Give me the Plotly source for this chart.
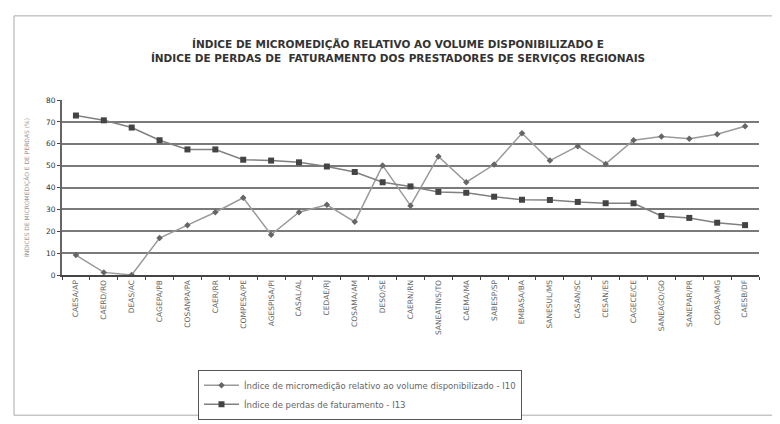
import plotly.graph_objects as go

categorias = ["CAESA/AP", "CAERD/RO", "DEAS/AC", "CAGEPA/PB", "COSANPA/PA", "CAER/RR",
              "COMPESA/PE", "AGESPISA/PI", "CASAL/AL", "CEDAE/RJ", "COSAMA/AM", "DESO/SE",
              "CAERN/RN", "SANEATINS/TO", "CAEMA/MA", "SABESP/SP", "EMBASA/BA", "SANESUL/MS",
              "CASAN/SC", "CESAN/ES", "CAGECE/CE", "SANEAGO/GO", "SANEPAR/PR", "COPASA/MG",
              "CAESB/DF"]

micromedicao = [9.1, 1.2, 0.0, 16.9, 22.8, 28.7, 35.3, 18.4, 28.7, 32.1, 24.3, 50.1,
                31.7, 54.2, 42.4, 50.5, 64.8, 52.3, 58.9, 50.8, 61.6, 63.3, 62.3, 64.3, 68.0]

perdas = [72.9, 70.7, 67.4, 61.6, 57.4, 57.4, 52.7, 52.3, 51.5, 49.6, 47.1, 42.4,
          40.5, 38.0, 37.6, 35.8, 34.4, 34.3, 33.4, 32.8, 32.8, 27.0, 26.1, 23.9, 22.8]

y_ticks = [0, 10, 20, 30, 40, 50, 60, 70, 80]

fig = go.Figure()
fig.add_trace(go.Scatter(
    x=categorias, y=micromedicao, mode="lines+markers",
    name="Índice de micromedição relativo ao volume disponibilizado - I10",
    line=dict(color="#9a9a9a", width=1.5),
    marker=dict(symbol="diamond", size=5, color="#666666"),
))
fig.add_trace(go.Scatter(
    x=categorias, y=perdas, mode="lines+markers",
    name="Índice de perdas de faturamento - I13",
    line=dict(color="#808080", width=1.5),
    marker=dict(symbol="square", size=6, color="#444444"),
))

W, H = 780, 424
L, R, T, B = 54, 29, 92, 151
pw, ph = W - L - R, H - T - B

def px_x(p):
    return (p - L) / pw

def px_y(p):
    return (H - B - p) / ph

fig.update_layout(
    width=W, height=H,
    margin=dict(l=L, r=R, t=T, b=B),
    paper_bgcolor="white", plot_bgcolor="white",
    font=dict(family="DejaVu Sans", color="#555555", size=7),
    title=dict(
        text="<b>ÍNDICE DE MICROMEDIÇÃO RELATIVO AO VOLUME DISPONIBILIZADO E<br>"
             "ÍNDICE DE PERDAS DE  FATURAMENTO DOS PRESTADORES DE SERVIÇOS REGIONAIS</b>",
        x=0.5, xref="container", xanchor="center",
        y=1 - 40 / H, yref="container", yanchor="middle",
        font=dict(family="DejaVu Sans", size=10.5, color="#333333"),
    ),
    showlegend=True,
    legend=dict(
        x=px_x(190), y=px_y(371), xanchor="left", yanchor="top",
        xref="paper", yref="paper",
        bordercolor="#555555", borderwidth=1, bgcolor="white",
        font=dict(size=8.5, color="#666666"),
        tracegroupgap=0, itemwidth=35,
    ),
    xaxis=dict(
        type="category", tickangle=-90, tickson="boundaries",
        ticks="outside", ticklen=3, tickcolor="#444444",
        showline=True, linecolor="#444444", linewidth=2,
        showgrid=False,
        tickfont=dict(size=7.5, color="#666666"),
        range=[-0.5, len(categorias) - 0.5],
    ),
    yaxis=dict(
        range=[0, 80], tickvals=y_ticks,
        ticks="outside", ticklen=3, tickcolor="#444444",
        showline=True, linecolor="#666666", linewidth=2,
        showgrid=True, gridcolor="#7a7a7a", gridwidth=2,
        tickfont=dict(size=7.5, color="#333333"),
        title=dict(text="ÍNDICES DE MICROMEDIÇÃO E DE PERDAS (%)",
                   font=dict(size=6, color="#999999"), standoff=16),
        zeroline=False,
    ),
    shapes=[dict(
        type="rect", xref="paper", yref="paper",
        x0=px_x(6), x1=px_x(773), y0=px_y(418), y1=px_y(5),
        line=dict(color="#aaaaaa", width=1), layer="below",
    )],
)

fig.write_html("out.html")
